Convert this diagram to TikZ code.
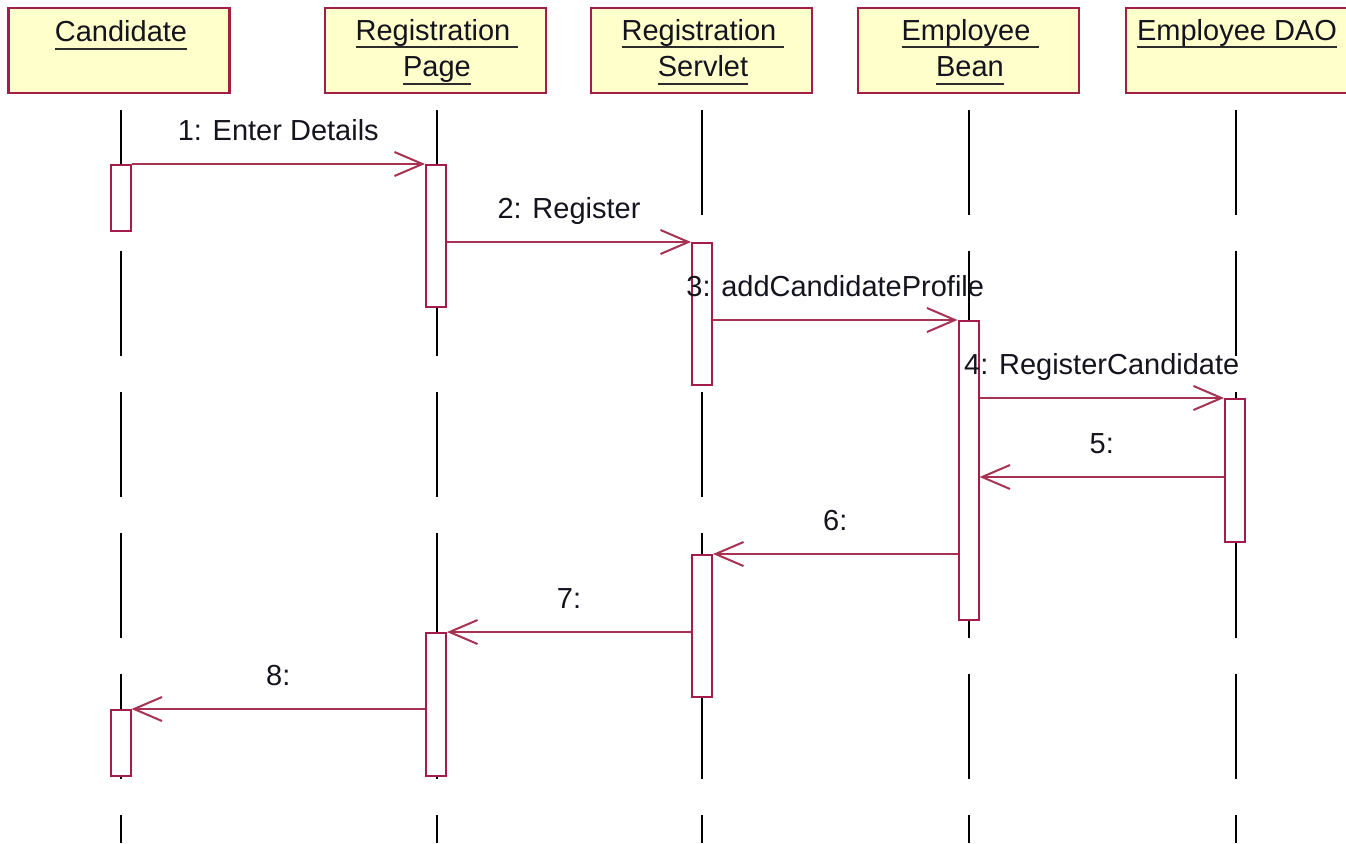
\documentclass[tikz,border=0pt]{standalone}
\usepackage{fontspec}
\setmainfont{Liberation Sans}
\usetikzlibrary{arrows.meta}
\definecolor{umlred}{RGB}{162,30,72}
\definecolor{msgred}{RGB}{168,50,82}
\definecolor{hdrfill}{RGB}{255,255,204}
\definecolor{ulc}{RGB}{45,45,45}
\definecolor{txt}{RGB}{20,20,30}
\newcommand{\ulbox}[1]{\setbox0=\hbox{#1}\rlap{\color{ulc}\rule[-7.5pt]{\wd0}{2pt}}\box0}
\begin{document}
\begin{tikzpicture}[x=1pt,y=-1pt,
  every node/.style={font=\fontsize{29}{33}\selectfont, text=txt},
  hdr/.style={draw=umlred, fill=hdrfill, line width=2.2pt, minimum width=221pt, minimum height=85pt, inner sep=0pt},
  htxt/.style={anchor=base, inner sep=0pt},
  life/.style={draw=black, line width=1.8pt, dash pattern=on 105pt off 36pt},
  act/.style={draw=umlred, fill=white, line width=2pt, minimum width=20pt, inner sep=0pt},
  msg/.style={draw=msgred, line width=2pt, -{Straight Barb[length=28pt,width=24pt,line width=2pt]}},
  lbl/.style={anchor=base, yshift=24pt, inner sep=0pt}]
\useasboundingbox (0,0) rectangle (1346,843);
\clip (0,0) rectangle (1346,843);
% headers
\node[hdr] (hC) at (119,50.5) {};
\node[hdr] (hP) at (435.5,50.5) {};
\node[hdr] (hS) at (701.5,50.5) {};
\node[hdr] (hB) at (968.5,50.5) {};
\node[hdr] (hD) at (1236.5,50.5) {};
\node[htxt] (tC) at (121,42) {\ulbox{Candidate}};
\node[htxt] (tP1) at (437,41) {\ulbox{Registration\ }};
\node[htxt] (tP2) at (437,77) {\ulbox{Page}};
\node[htxt] (tS1) at (703,41) {\ulbox{Registration\ }};
\node[htxt] (tS2) at (703,77) {\ulbox{Servlet}};
\node[htxt] (tB1) at (970,41) {\ulbox{Employee\ }};
\node[htxt] (tB2) at (970,77) {\ulbox{Bean}};
\node[htxt] (tD) at (1237,41) {\ulbox{Employee DAO}};
% lifelines
\coordinate (lC1) at (121,110); \coordinate (lC2) at (121,843);
\coordinate (lP1) at (437,110); \coordinate (lP2) at (437,843);
\coordinate (lS1) at (702,110); \coordinate (lS2) at (702,843);
\coordinate (lB1) at (969,110); \coordinate (lB2) at (969,843);
\coordinate (lD1) at (1236,110); \coordinate (lD2) at (1236,843);
\draw[life] (lC1) -- (lC2);
\draw[life] (lP1) -- (lP2);
\draw[life] (lS1) -- (lS2);
\draw[life] (lB1) -- (lB2);
\draw[life] (lD1) -- (lD2);
% activations
\node[act, minimum height=66pt] (cA1) at (120.5,198) {};
\node[act, minimum height=66pt] (cA2) at (120.5,743) {};
\node[act, minimum height=142pt] (pA1) at (436,236) {};
\node[act, minimum height=143pt] (pA2) at (436,704.5) {};
\node[act, minimum height=142pt] (sA1) at (702,314) {};
\node[act, minimum height=142pt] (sA2) at (702,626) {};
\node[act, minimum height=299pt] (bA) at (968.5,470.5) {};
\node[act, minimum height=143pt] (dA) at (1235,470.5) {};
\coordinate (y5) at (0,477);
% messages
\draw[msg] (cA1.north east) -- node[lbl] (m1) {1: Enter Details} (pA1.north west);
\draw[msg] (pA1.east |- sA1.north) -- node[lbl] (m2) {2: Register} (sA1.north west);
\draw[msg] (sA1.east |- bA.north) -- node[lbl] (m3) {3: addCandidateProfile} (bA.north west);
\draw[msg] (bA.east |- dA.north) -- node[lbl] (m4) {4: RegisterCandidate} (dA.north west);
\draw[msg] (dA.west |- y5) -- node[lbl] (m5) {5:\ } (bA.east |- y5);
\draw[msg] (bA.west |- sA2.north) -- node[lbl] (m6) {6:\ } (sA2.north east);
\draw[msg] (sA2.west |- pA2.north) -- node[lbl] (m7) {7:\ } (pA2.north east);
\draw[msg] (pA2.west |- cA2.north) -- node[lbl] (m8) {8:\ } (cA2.north east);
\end{tikzpicture}
\end{document}
